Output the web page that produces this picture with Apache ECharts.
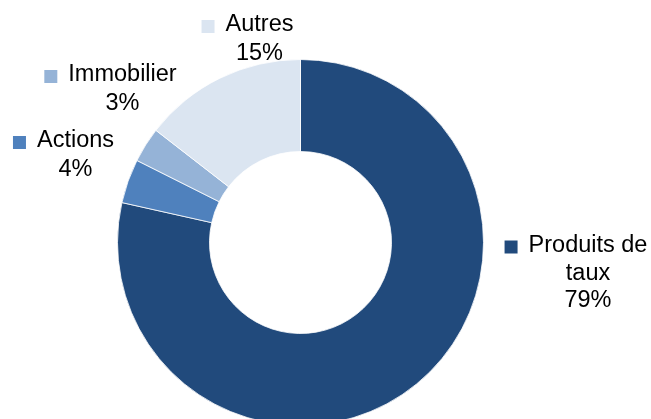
<!DOCTYPE html>
<html>
<head>
<meta charset="utf-8">
<script src="https://cdn.jsdelivr.net/npm/echarts@6/dist/echarts.min.js"></script>
<style>
html,body{margin:0;padding:0;background:#fff;}
#chart{width:651px;height:419px;}
</style>
</head>
<body>
<div id="chart"></div>
<script>
var categories = ['Produits de taux', 'Actions', 'Immobilier', 'Autres'];
var values = [78.5, 3.9, 3.1, 14.5];
var colors = ['#214A7C', '#4F81BD', '#95B3D7', '#DBE5F1'];

// label anchor layout (center x, top y) per slice
var labelPos = [[576, 233.5], [63.5, 129], [110.5, 63], [247.5, 13]];

var chart = echarts.init(document.getElementById('chart'));
var FONT = 'Liberation Sans, Arial, sans-serif';
var rich = {
  name: { fontSize: 23.5, fontFamily: FONT, color: '#000', lineHeight: 27 },
  head: { fontSize: 23.5, fontFamily: FONT, color: '#000', lineHeight: 27, height: 24, verticalAlign: 'top' },
  gap: { width: 11, height: 13 },
  sp: { width: 24, height: 13 }
};
colors.forEach(function (c, i) {
  rich['sq' + i] = { width: 13, height: 13, backgroundColor: c };
});

function wrapName(n) {
  if (n.length > 12) {
    var k = n.lastIndexOf(' ');
    return [n.slice(0, k), n.slice(k + 1)];
  }
  return [n];
}

chart.setOption({
  animation: false,
  backgroundColor: '#fff',
  series: [{
    type: 'pie',
    center: [300.5, 242.5],
    radius: [91, 183],
    startAngle: 90,
    clockwise: true,
    avoidLabelOverlap: false,
    itemStyle: { borderColor: '#fff', borderWidth: 0.8 },
    label: {
      show: true,
      position: 'outside',
      align: 'center',
      fontSize: 23.5,
      fontFamily: FONT,
      color: '#000',
      lineHeight: 27,
      rich: rich,
      formatter: function (p) {
        var lines = wrapName(p.name);
        var out = '{sq' + p.dataIndex + '|}{gap|}{head|' + lines[0] + '}';
        for (var i = 1; i < lines.length; i++) out += '\n{sp|}{name|' + lines[i] + '}';
        out += '\n{sp|}{name|' + Math.round(p.percent) + '%}';
        return out;
      }
    },
    labelLine: { show: false },
    labelLayout: function (params) {
      var pos = labelPos[params.dataIndex];
      return { x: pos[0], y: pos[1], align: 'center', verticalAlign: 'top' };
    },
    data: categories.map(function (c, i) {
      return { name: c, value: values[i], itemStyle: { color: colors[i] } };
    })
  }]
});
</script>
</body>
</html>
